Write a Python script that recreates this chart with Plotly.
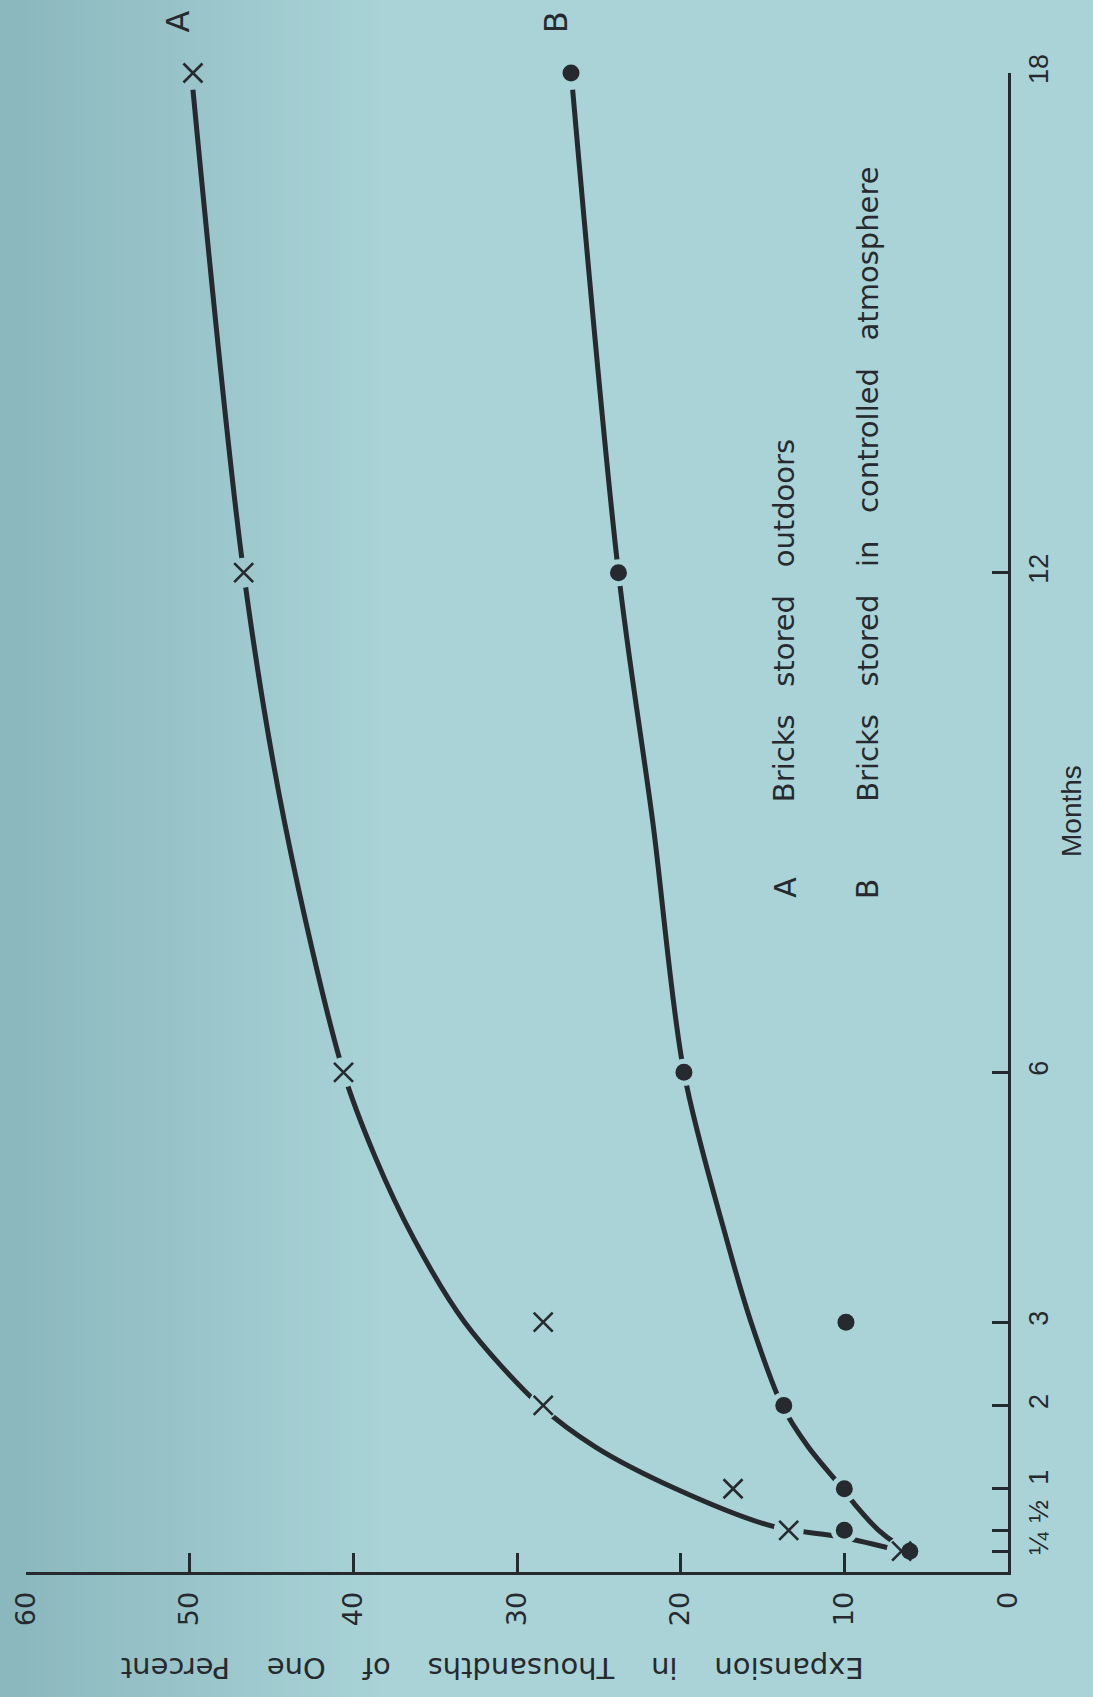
import plotly.graph_objects as go

# ---- data -------------------------------------------------------------
# months at which measurements were taken
months_marks = [0.25, 0.5, 1, 2, 3, 6, 12, 18]
# measured expansion (thousandths of one percent)
outdoor_marks = [6.5, 13.4, 16.8, 28.4, 28.4, 40.6, 46.7, 49.8]      # A, crosses
controlled_marks = [6.0, 10.0, 10.0, 13.7, 9.9, 19.8, 23.8, 26.7]    # B, dots

# hand-faired curves through the measurements
outdoor_curve_months = [0.25, 0.42, 0.55, 1, 1.5, 2, 3, 4, 5, 6, 9, 12, 17.8]
outdoor_curve = [6.5, 10.2, 14.4, 20.3, 25.2, 28.6, 33.2, 36.3, 38.7, 40.6, 44.2, 46.7, 49.8]
controlled_curve_months = [0.25, 0.35, 0.5, 0.81, 1, 1.5, 2, 3, 4, 6, 9, 12, 17.8]
controlled_curve = [6.0, 6.9, 7.9, 9.35, 10.1, 12.2, 13.8, 15.7, 17.2, 19.8, 21.7, 23.8, 26.6]

# axis ticks
expansion_ticks = [0, 10, 20, 30, 40, 50, 60]
expansion_labels = ["0", "10", "20", "30", "40", "50", "60"]
month_ticks = [0.25, 0.5, 1, 2, 3, 6, 12, 18]
NB = "\u00a0"
month_labels = [NB + "¼", NB * 4 + "½", NB * 2 + "1", "2", "3", "6", "12", "18"]

# ---- page geometry ------------------------------------------------------
FIG_W, FIG_H = 1093, 1697
L, R, T, B = 10, 85, 73, 125
W = FIG_W - L - R
H = FIG_H - T - B

INK = "#26292d"
NARROW = "Liberation Sans, Arial, sans-serif"
SANS = "DejaVu Sans, Verdana, sans-serif"

DARK = (139, 184, 190)
LIGHT = (169, 211, 215)


def bg_at(xp):
    t = min(max(xp / 380.0, 0.0), 1.0)
    c = [round(d + (l - d) * t) for d, l in zip(DARK, LIGHT)]
    return "rgb(%d,%d,%d)" % tuple(c)


def px_x(xp):
    return (xp - L) / W


def px_y(yp):
    return 1 - (yp - T) / H


def data_to_px(e):
    return L + (60 - e) / 60.0 * W


fig = go.Figure()

# faired curves
for xs, ys in [(outdoor_curve, outdoor_curve_months), (controlled_curve, controlled_curve_months)]:
    fig.add_trace(go.Scatter(
        x=xs, y=ys, mode="lines",
        line=dict(color=INK, width=5, shape="spline", smoothing=0.9),
        hoverinfo="skip", showlegend=False, cliponaxis=False,
    ))

# gaps in the curves around each plotted point
for vals, size in [(outdoor_marks, 30), (controlled_marks, 27)]:
    fig.add_trace(go.Scatter(
        x=vals, y=months_marks, mode="markers",
        marker=dict(symbol="circle", size=size,
                    color=[bg_at(data_to_px(v)) for v in vals], line=dict(width=0)),
        hoverinfo="skip", showlegend=False, cliponaxis=False,
    ))

# A: bricks stored outdoors
fig.add_trace(go.Scatter(
    x=outdoor_marks, y=months_marks, mode="markers", name="A",
    marker=dict(symbol="x-thin", size=19, line=dict(color=INK, width=2.6)),
    showlegend=False, cliponaxis=False,
))
# B: bricks stored in controlled atmosphere
fig.add_trace(go.Scatter(
    x=controlled_marks, y=months_marks, mode="markers", name="B",
    marker=dict(symbol="circle", size=17, color=INK, line=dict(width=0)),
    showlegend=False, cliponaxis=False,
))

# soft darkening toward the left edge of the sheet
shapes = [dict(
    type="rect", xref="paper", yref="paper",
    x0=-0.2, x1=px_x(1), y0=-0.2, y1=1.2,
    fillcolor=bg_at(0), line=dict(width=0), layer="below",
)]
step = 10
for i in range(0, 380, step):
    shapes.append(dict(
        type="rect", xref="paper", yref="paper",
        x0=px_x(i), x1=px_x(i + step + 1), y0=px_y(FIG_H + 50), y1=px_y(-50),
        fillcolor=bg_at(i + step / 2), line=dict(width=0), layer="below",
    ))


def ann(text, xp, yp, size, family=SANS, angle=-90, xanchor="center", yanchor="middle"):
    return dict(text=text, x=px_x(xp), y=px_y(yp), xref="paper", yref="paper",
                showarrow=False, textangle=angle, xanchor=xanchor, yanchor=yanchor,
                font=dict(family=family, size=size, color=INK))


annotations = [
    ann("A", 164, 22, 32),
    ann("B", 549, 22, 32),
    ann("A", 781, 887, 30),
    ann("B", 866, 889, 30),
    ann(("Bricks" + NB * 3 + "stored" + NB * 3 + "outdoors"), 781, 804, 29, yanchor="bottom"),
    ann(("Bricks" + NB * 3 + "stored" + NB * 3 + "in" + NB * 3 + "controlled" + NB * 3 + "atmosphere"),
        866, 804, 29, yanchor="bottom"),
    ann("Months", 1072, 811, 28, family=NARROW),
    ann((NB * 4).join(["Expansion", "in", "Thousandths", "of", "One", "Percent"]),
        484, 1668, 29, angle=180),
]

fig.update_layout(
    width=FIG_W, height=FIG_H,
    margin=dict(l=L, r=R, t=T, b=B, pad=0),
    paper_bgcolor="rgb(169,211,215)",
    plot_bgcolor="rgba(0,0,0,0)",
    shapes=shapes,
    annotations=annotations,
    showlegend=False,
    xaxis=dict(
        range=[60, 0], showgrid=False, zeroline=False,
        showline=True, linecolor=INK, linewidth=3,
        ticks="inside", ticklen=19, tickwidth=3, tickcolor=INK,
        tickvals=expansion_ticks, ticktext=expansion_labels,
        tickangle=-90, ticklabelstandoff=6, ticklabeloverflow="allow",
        tickfont=dict(family=SANS, size=27, color=INK),
    ),
    yaxis=dict(
        range=[0, 18], side="right", showgrid=False, zeroline=False,
        showline=True, linecolor=INK, linewidth=3,
        ticks="inside", ticklen=16, tickwidth=3, tickcolor=INK,
        tickvals=month_ticks, ticktext=month_labels,
        tickangle=-90, ticklabelstandoff=5, ticklabeloverflow="allow",
        tickfont=dict(family=NARROW, size=27, color=INK),
    ),
)

fig.write_html("out.html")
